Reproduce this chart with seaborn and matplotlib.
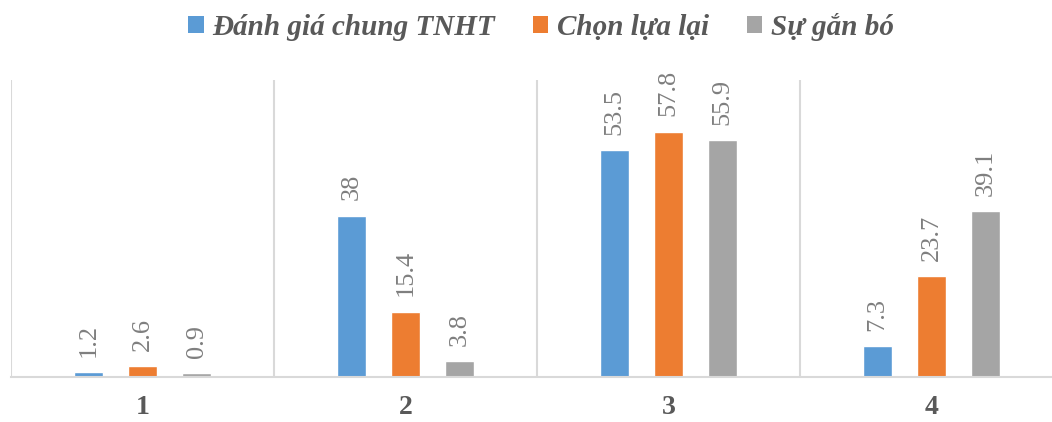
import matplotlib
matplotlib.use("Agg")
import matplotlib.pyplot as plt
import seaborn as sns
import pandas as pd
from matplotlib.patches import Patch

categories = ["1", "2", "3", "4"]
series_names = ["Đánh giá chung TNHT", "Chọn lựa lại", "Sự gắn bó"]
danh_gia_chung = [1.2, 38, 53.5, 7.3]
chon_lua_lai = [2.6, 15.4, 57.8, 23.7]
su_gan_bo = [0.9, 3.8, 55.9, 39.1]
colors = ["#5B9BD5", "#ED7D31", "#A5A5A5"]

rows = []
for name, vals in zip(series_names, [danh_gia_chung, chon_lua_lai, su_gan_bo]):
    for cat, v in zip(categories, vals):
        rows.append({"cat": cat, "series": name, "value": v})
df = pd.DataFrame(rows)

sns.set_theme(style="white")
plt.rcParams["font.family"] = ["Liberation Serif", "DejaVu Serif"]

fig = plt.figure(figsize=(10.52, 4.22), dpi=100)
ax = fig.add_axes([11 / 1052, 45 / 422, 1052 / 1052, 297 / 422])

sns.barplot(data=df, x="cat", y="value", hue="series", hue_order=series_names,
            palette=colors, width=0.616, gap=0.48, saturation=1, ax=ax,
            legend=False, errorbar=None)

for cont in ax.containers:
    ax.bar_label(cont, labels=[f"{v:g}" for v in cont.datavalues], rotation=90,
                 padding=11, color="#7F7F7F", fontsize=19)

ax.set_ylim(0, 70)
ax.set_xlim(-0.5, 3.5)
ax.set_yticks([])
ax.set_xlabel("")
ax.set_ylabel("")
ax.set_xticks(range(len(categories)))
ax.set_xticklabels(categories, fontsize=20, fontweight="bold", color="#595959")
ax.tick_params(axis="x", length=0, pad=13)

# Separators between categories
ax.set_xticks([-0.5, 0.5, 1.5, 2.5, 3.5], minor=True)
ax.grid(False)
ax.grid(True, which="minor", axis="x", color="#D9D9D9", linewidth=1.5)
ax.tick_params(axis="x", which="minor", length=0)

for s in ["top", "left", "right"]:
    ax.spines[s].set_visible(False)
ax.spines["bottom"].set_color("#D9D9D9")
ax.spines["bottom"].set_linewidth(1.5)

handles = [Patch(facecolor=c, edgecolor="none") for c in colors]
leg = fig.legend(handles, series_names, loc="center", bbox_to_anchor=(541 / 1052, 1 - 27 / 422),
                 ncol=3, frameon=False, handlelength=0.52, handleheight=0.52,
                 handletextpad=0.3, columnspacing=1.3,
                 prop={"family": ["Liberation Serif"], "style": "italic",
                       "weight": "bold", "size": 21})
for t in leg.get_texts():
    t.set_color("#595959")

fig.savefig("out.png", dpi=100)
